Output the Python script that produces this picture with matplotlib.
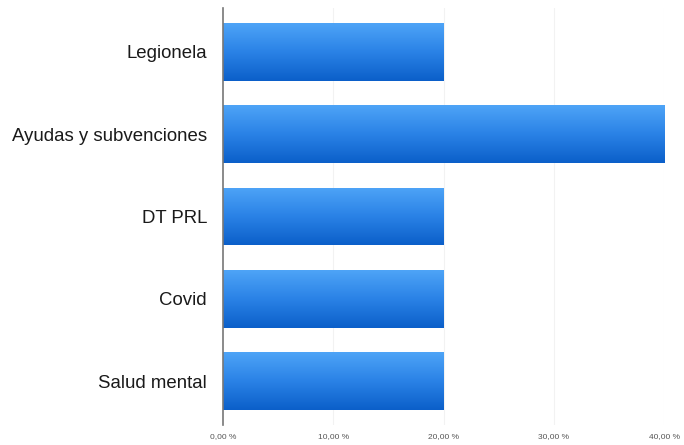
import numpy as np
import matplotlib.pyplot as plt
from matplotlib.colors import LinearSegmentedColormap
from matplotlib.ticker import FuncFormatter

# datos (de abajo hacia arriba)
temas = ["Salud mental", "Covid", "DT PRL", "Ayudas y subvenciones", "Legionela"]
porcentajes = [0.20, 0.20, 0.20, 0.40, 0.20]
ticks = [0.0, 0.1, 0.2, 0.3, 0.4]

plt.rcParams['font.family'] = ['Liberation Sans', 'DejaVu Sans']

fig = plt.figure(figsize=(6.84, 4.45), dpi=100)
ax = fig.add_axes([0.326, 0.045, 0.645, 0.937])

# degradado azul de arriba (claro) a abajo (oscuro)
cmap = LinearSegmentedColormap.from_list("azul", ["#0b5fc9", "#2a82e6", "#4ea4f7"])
grad = np.linspace(0, 1, 256).reshape(-1, 1)

alto = 0.7
y = np.arange(len(temas))
barras = ax.barh(y, porcentajes, height=alto, color="none", edgecolor="none")
for b in barras:
    x0, y0 = b.get_x(), b.get_y()
    w, h = b.get_width(), b.get_height()
    im = ax.imshow(grad, cmap=cmap, aspect="auto", origin="lower",
                   extent=[x0, x0 + w, y0, y0 + h], zorder=2)
    im.set_clip_path(b)

ax.set_xlim(0, 0.40)
ax.set_ylim(-0.53, 4.53)
ax.set_yticks(y)
ax.set_yticklabels(temas, fontsize=13.4, color="#1a1a1a")
ax.set_xticks(ticks)
ax.xaxis.set_major_formatter(FuncFormatter(lambda v, p: f"{v*100:.2f} %".replace(".", ",")))
ax.tick_params(axis="x", labelsize=6, length=0, pad=6, colors="#555555")
ax.tick_params(axis="y", length=0, pad=11.5)

for t in ticks[1:]:
    ax.axvline(t, color="#f2f2f2", linewidth=0.8, zorder=0)

for s in ["top", "right", "bottom"]:
    ax.spines[s].set_visible(False)
ax.spines["left"].set_color("#777777")
ax.spines["left"].set_linewidth(1.2)
ax.spines["left"].set_zorder(3)

fig.savefig("out.png", dpi=100)
